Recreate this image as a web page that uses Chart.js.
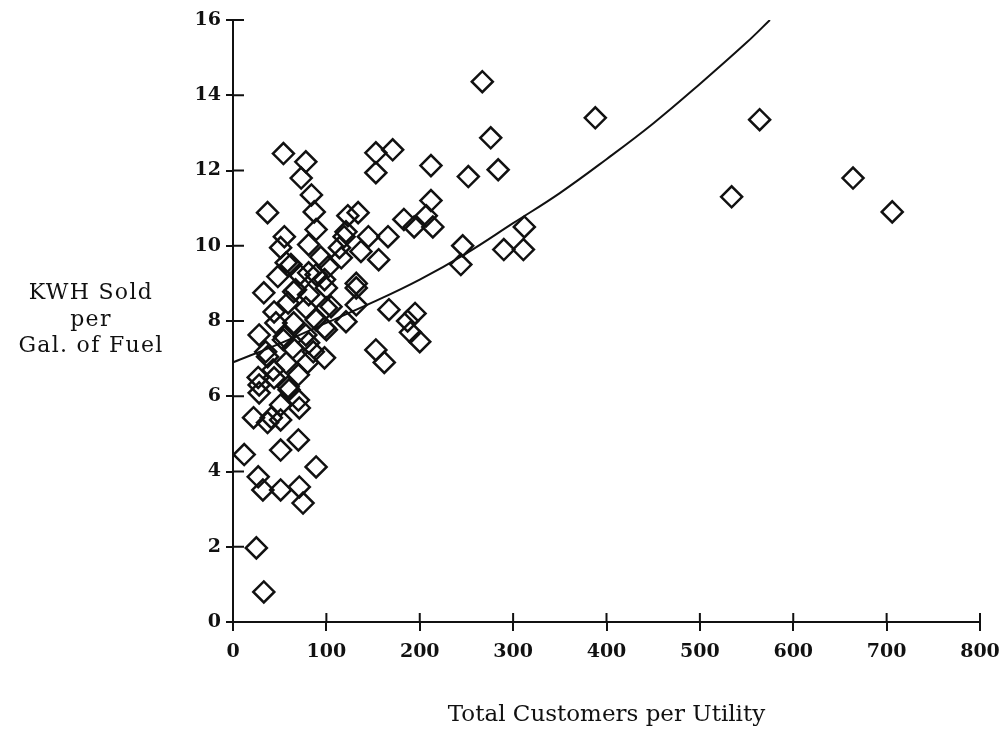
<!DOCTYPE html>
<html>
<head>
<meta charset="utf-8">
<script src="https://cdn.jsdelivr.net/npm/chart.js@4.4.1/dist/chart.umd.min.js"></script>
<style>
  body { margin: 0; background: #fff; }
  #wrap { position: relative; width: 1006px; height: 732px; }
  #ylab {
    position: absolute; left: 0; top: 279px; width: 182px;
    text-align: center; font: 22px "DejaVu Serif", serif; letter-spacing: 1.3px;
    line-height: 26.5px; color: #111;
  }
</style>
</head>
<body>
<div id="wrap">
  <canvas id="chart" width="1006" height="732"></canvas>
  <div id="ylab">KWH Sold<br>per<br>Gal. of Fuel</div>
</div>
<script>
// ── DATA ──
const customers = [
  267, 276, 252, 284, 212, 171, 153, 153, 388, 564, 534, 664, 706,
  246, 244, 312, 290, 311, 212, 207, 214, 194, 183,
  167, 195, 187, 200, 190, 153, 162, 132, 132, 121, 105, 98, 98,
  123, 134, 145, 166, 121, 114, 137, 156, 102, 132, 116, 94, 98, 119,
  54, 78, 73, 84, 37, 87, 55, 89, 51, 81, 57, 48, 81, 33, 67, 62, 71, 65, 81, 100,
  44, 59, 78, 100, 46, 65, 89, 28, 55, 78, 100, 35, 64, 86, 54, 81, 37, 57, 80,
  27, 44, 70, 28, 60, 71, 22, 41, 51, 59, 70, 37, 70, 51, 89, 12,
  27, 32, 51, 71, 75, 25, 33, 89, 43, 28, 51
];
const kwhPerGal = [
  14.36, 12.87, 11.84, 12.02, 12.13, 12.55, 12.47, 11.94, 13.4, 13.35, 11.3, 11.8, 10.9,
  10.0, 9.5, 10.5, 9.9, 9.9, 11.2, 10.8, 10.5, 10.5, 10.7,
  8.3, 8.2, 8.0, 7.45, 7.7, 7.23, 6.9, 8.88, 8.43, 7.98, 8.38, 7.82, 7.02,
  10.8, 10.88, 10.24, 10.24, 10.37, 9.95, 9.85, 9.63, 9.44, 9.0, 9.68, 9.7, 9.1, 10.24,
  12.45, 12.23, 11.8, 11.35, 10.88, 10.9, 10.24, 10.43, 9.95, 10.03, 9.55, 9.18, 9.28, 8.75, 8.83, 9.5, 9.23, 8.78, 8.7, 8.88,
  8.24, 8.48, 8.35, 8.35, 7.95, 7.95, 8.03, 7.63, 7.58, 7.63, 7.77, 7.18, 7.28, 7.18, 7.5, 7.42, 7.05, 6.89, 6.9,
  6.5, 6.49, 6.57, 6.09, 6.17, 5.69, 5.43, 5.43, 5.37, 6.25, 5.9, 5.3, 4.84, 4.57, 4.12, 4.45,
  3.86, 3.51, 3.51, 3.59, 3.16, 1.97, 0.8, 9.23, 6.7, 6.3, 5.77
];
// fitted curve
const fitCustomers = [0, 50, 100, 150, 200, 250, 300, 350, 400, 450, 500, 550, 575];
const fitKwh = [6.9, 7.4, 7.95, 8.5, 9.1, 9.8, 10.6, 11.4, 12.3, 13.25, 14.3, 15.4, 16.0];

const xTicks = [0, 100, 200, 300, 400, 500, 600, 700, 800];
const yTicks = [0, 2, 4, 6, 8, 10, 12, 14, 16];

const INK = '#111';

// tick marks that cross the axis line (Chart.js only draws the outer half)
const innerTicks = {
  id: 'innerTicks',
  afterDraw(chart) {
    const { ctx, scales: { x, y } } = chart;
    ctx.save();
    ctx.strokeStyle = INK;
    ctx.lineWidth = 2;
    ctx.beginPath();
    xTicks.forEach(v => {
      const px = x.getPixelForValue(v);
      ctx.moveTo(px, y.bottom);
      ctx.lineTo(px, y.bottom - 9);
    });
    yTicks.forEach(v => {
      const py = y.getPixelForValue(v);
      ctx.moveTo(x.left, py);
      ctx.lineTo(x.left + 11, py);
    });
    ctx.stroke();
    ctx.restore();
  }
};

const tickFont = { family: '"DejaVu Serif", serif', size: 19, weight: 'bold' };

new Chart(document.getElementById('chart').getContext('2d'), {
  type: 'scatter',
  data: {
    datasets: [
      {
        data: customers.map((c, i) => ({ x: c, y: kwhPerGal[i] })),
        pointStyle: 'rectRot',
        pointRadius: 10.5,
        pointBorderWidth: 2.5,
        pointBorderColor: INK,
        pointBackgroundColor: 'rgba(0,0,0,0)',
        showLine: false
      },
      {
        type: 'line',
        data: fitCustomers.map((c, i) => ({ x: c, y: fitKwh[i] })),
        borderColor: INK,
        borderWidth: 2,
        pointRadius: 0,
        tension: 0.4,
        fill: false
      }
    ]
  },
  options: {
    responsive: false,
    animation: false,
    layout: { padding: { top: 20, right: 26, left: 0, bottom: 0 } },
    plugins: { legend: { display: false }, tooltip: { enabled: false } },
    scales: {
      x: {
        type: 'linear', min: 0, max: 800,
        afterFit: s => { s.height = 110; s.paddingRight = 0; s.paddingLeft = 0; },
        afterBuildTicks: s => { s.ticks = xTicks.map(v => ({ value: v })); },
        border: { color: INK, width: 2 },
        grid: { drawOnChartArea: false, color: INK, lineWidth: 2, tickLength: 9 },
        ticks: { color: INK, font: tickFont, padding: 10, maxRotation: 0 },
        title: {
          display: true, text: 'Total Customers per Utility', color: INK,
          font: { family: '"DejaVu Serif", serif', size: 23 },
          padding: { top: 20, bottom: 3 }
        }
      },
      y: {
        type: 'linear', min: 0, max: 16,
        afterFit: s => { s.width = 233; },
        afterBuildTicks: s => { s.ticks = yTicks.map(v => ({ value: v })); },
        border: { color: INK, width: 2 },
        grid: { drawOnChartArea: false, color: INK, lineWidth: 2, tickLength: 7 },
        ticks: { color: INK, font: tickFont, padding: 5 }
      }
    }
  },
  plugins: [innerTicks]
});
</script>
</body>
</html>
